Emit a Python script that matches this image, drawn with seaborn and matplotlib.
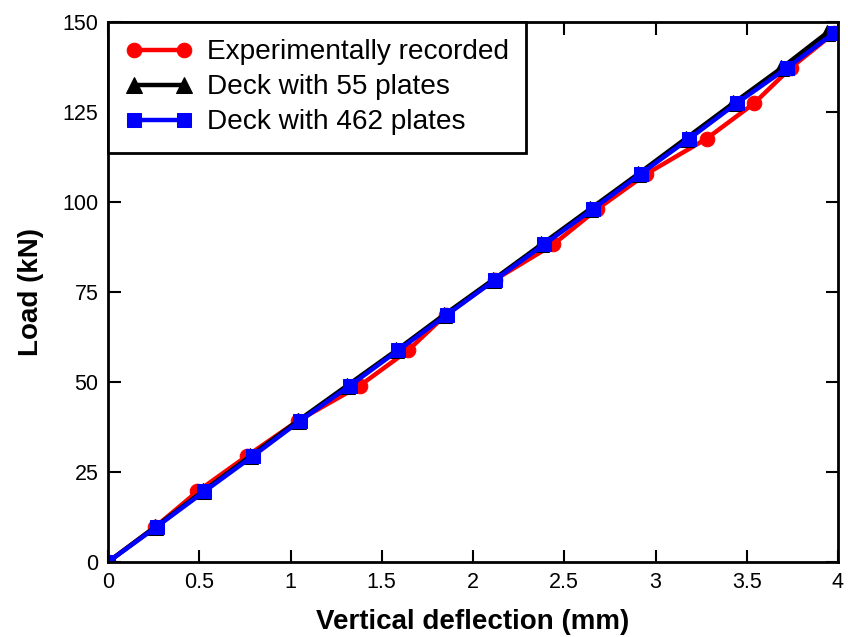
import matplotlib
matplotlib.use("Agg")
import matplotlib.pyplot as plt
import seaborn as sns
import pandas as pd

sns.set_style("white")
plt.rcParams['font.family'] = ['Liberation Sans', 'DejaVu Sans']
plt.rcParams.update({'text.color': 'black', 'axes.labelcolor': 'black',
                     'xtick.color': 'black', 'ytick.color': 'black'})

load = [0, 9.8, 19.6, 29.4, 39.2, 49.0, 58.8, 68.6, 78.4, 88.2, 98.0, 107.8, 117.6, 127.4, 137.2, 147.0]
defl_exp = [0, 0.26, 0.49, 0.76, 1.04, 1.38, 1.645, 1.85, 2.12, 2.44, 2.68, 2.95, 3.28, 3.54, 3.74, 3.98]
defl_55 = [0, 0.26, 0.52, 0.78, 1.04, 1.31, 1.58, 1.84, 2.11, 2.375, 2.64, 2.905, 3.165, 3.425, 3.69, 3.94]
defl_462 = [0, 0.267, 0.528, 0.793, 1.052, 1.326, 1.59, 1.855, 2.121, 2.389, 2.656, 2.918, 3.185, 3.444, 3.719, 3.98]
labels = ["Experimentally recorded", "Deck with 55 plates", "Deck with 462 plates"]
x_ticks = [0, 0.5, 1, 1.5, 2, 2.5, 3, 3.5, 4]
y_ticks = [0, 25, 50, 75, 100, 125, 150]

fig = plt.figure(figsize=(8.48, 6.37), dpi=100)
ax = fig.add_axes([108/848, 1-562/637, 730/848, 540/637])

series = [(defl_exp, labels[0], "#ff0000", "o", 10.5),
          (defl_55, labels[1], "#000000", "^", 11),
          (defl_462, labels[2], "#0000ff", "s", 9.5)]
for xs, lab, col, mk, ms in series:
    df = pd.DataFrame({"x": xs, "y": load})
    sns.lineplot(data=df, x="x", y="y", ax=ax, color=col, marker=mk, markersize=ms,
                 markeredgecolor=col, linewidth=3.2, label=lab, sort=False)

ax.set_xlim(0, 4)
ax.set_ylim(0, 150)
ax.set_xticks(x_ticks)
ax.set_xticklabels([f"{t:g}" for t in x_ticks])
ax.set_yticks(y_ticks)
for lbl in ax.get_xticklabels() + ax.get_yticklabels():
    lbl.set_fontsize(15.5)

ax.tick_params(direction='in', length=9, width=1.5, top=True, right=True,
               bottom=True, left=True, pad=7)
for s in ax.spines.values():
    s.set_linewidth(2)
    s.set_color('black')

ax.set_xlabel("Vertical deflection (mm)", fontsize=20, fontweight='bold', labelpad=12)
ax.set_ylabel("Load (kN)", fontsize=20, fontweight='bold', labelpad=13)

leg = ax.legend(loc='upper left', bbox_to_anchor=(0, 1), borderaxespad=0, fontsize=20.2,
                frameon=True, fancybox=False, numpoints=2, handlelength=2.4,
                handletextpad=0.5, labelspacing=0.32, borderpad=0.62)
leg.get_frame().set_edgecolor('black')
leg.get_frame().set_linewidth(2)
leg.get_frame().set_alpha(1)

fig.savefig("out.png", dpi=100)
